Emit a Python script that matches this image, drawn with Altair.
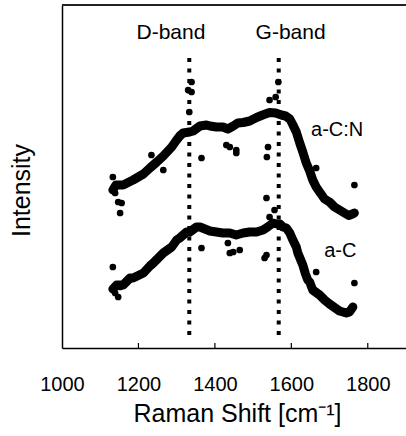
import altair as alt
import pandas as pd

# ---- data ----
# a-C:N main trace (Raman shift in cm-1, intensity in arbitrary units)
acn_shift = [1133, 1141, 1152, 1160, 1186, 1204, 1213, 1230, 1248, 1265,
             1287, 1298, 1308, 1317, 1334, 1343, 1361, 1378, 1387, 1404,
             1421, 1434, 1448, 1460, 1474, 1491, 1509, 1525, 1543, 1559,
             1574, 1585, 1596, 1603, 1613, 1622, 1630, 1639, 1648, 1656,
             1665, 1674, 1687, 1700, 1713, 1726, 1739, 1750, 1760, 1765]
acn_int = [158, 163, 163, 163, 168, 172, 174, 180, 186, 192,
           201, 207, 212, 215, 216, 217, 222, 223, 222, 221,
           221, 219, 222, 225, 225.5, 227, 230.5, 233, 235.5, 235,
           233, 232, 229, 224, 216, 205, 196, 185, 177, 168,
           161, 156, 149, 146, 141, 138, 135, 132.5, 134, 135]
# a-C:N scattered points
acn_out_shift = [1133, 1139, 1147, 1156, 1152, 1234, 1265, 1330, 1339, 1339,
                 1333, 1365, 1430, 1439, 1456, 1456, 1539, 1536, 1535, 1556,
                 1543, 1559, 1566, 1665, 1765]
acn_out_int = [171, 155, 146, 145, 135, 193, 178, 258, 266, 256,
               236, 190, 203, 201, 198, 195, 201, 191, 150, 138,
               248, 251, 266, 180, 163]

# a-C main trace
ac_shift = [1133, 1143, 1160, 1178, 1186, 1213, 1230, 1239, 1265, 1287,
            1300, 1308, 1326, 1334, 1352, 1361, 1374, 1387, 1404, 1421,
            1439, 1456, 1474, 1491, 1509, 1526, 1538, 1552, 1562, 1570,
            1578, 1587, 1596, 1604, 1613, 1617, 1630, 1637, 1643, 1648,
            1656, 1674, 1687, 1700, 1713, 1726, 1744, 1752, 1761]
ac_int = [59, 63, 63, 70, 70, 75, 82, 85, 95, 101,
          108, 110, 116, 116, 121, 121, 119, 117, 116, 115,
          115, 113, 115, 116, 116, 118, 121, 125, 124, 124,
          121, 120, 115, 108, 101, 95, 83, 74, 68, 66,
          58, 53, 48, 44, 40.5, 37, 35, 36, 41]
# a-C scattered points
ac_out_shift = [1133, 1139, 1147, 1152, 1365, 1434, 1448, 1465, 1439, 1535,
                1530, 1543, 1665, 1765]
ac_out_int = [81, 55, 51, 61, 100, 105, 96, 98, 95, 93,
              90, 131, 76, 65]

# band markers
band_names = ["D-band", "G-band"]
band_pos = [1333, 1567]
band_top = [290, 290]
band_bottom = [13, 13]
band_label_x = [1285, 1598]
band_label_y = [315, 315]

# curve labels
curve_names = ["a-C:N", "a-C"]
curve_label_x = [1720, 1728]
curve_label_y = [218, 97]

x_ticks = [1000, 1200, 1400, 1600, 1800]
inner_ticks = [1200, 1400, 1600, 1800]

# ---- tables ----
trace = pd.concat([
    pd.DataFrame({"shift": acn_shift, "intensity": acn_int, "sample": "a-C:N"}),
    pd.DataFrame({"shift": ac_shift, "intensity": ac_int, "sample": "a-C"}),
])
scatter = pd.concat([
    trace,
    pd.DataFrame({"shift": acn_out_shift, "intensity": acn_out_int, "sample": "a-C:N"}),
    pd.DataFrame({"shift": ac_out_shift, "intensity": ac_out_int, "sample": "a-C"}),
])
bands = pd.DataFrame({"name": band_names, "pos": band_pos, "top": band_top,
                      "bottom": band_bottom, "lx": band_label_x, "ly": band_label_y})
curves = pd.DataFrame({"name": curve_names, "x": curve_label_x, "y": curve_label_y})
ticks_df = pd.DataFrame({"t": inner_ticks})

W, H = 344, 343
FONT = "Liberation Sans"
xs = alt.Scale(domain=[1000, 1900], nice=False, zero=False)
ys = alt.Scale(domain=[0, 343], nice=False, zero=False)

x_axis = alt.Axis(values=x_ticks, format="d", ticks=False, grid=False,
                  labelFontSize=20, labelFont=FONT, labelColor="black",
                  labelPadding=26, labelFlush=False, labelBound=False,
                  domainColor="black", domainWidth=1.5,
                  title="Raman Shift [cm⁻¹]", titleFont=FONT, titleFontSize=25,
                  titleFontWeight="normal", titleColor="black",
                  titleX=175, titleY=65, titleAlign="center", titleBaseline="middle")
y_axis = alt.Axis(labels=False, ticks=False, grid=False,
                  domainColor="black", domainWidth=1.5,
                  title="Intensity", titleFont=FONT, titleFontSize=25,
                  titleFontWeight="normal", titleColor="black",
                  titleX=-41, titleY=185, titleAlign="center", titleBaseline="middle")


def X(field):
    return alt.X(field, scale=xs, axis=x_axis)


def Y(field):
    return alt.Y(field, scale=ys, axis=y_axis)


lines = alt.Chart(trace).mark_line(color="black", strokeWidth=9,
                                   strokeCap="round", strokeJoin="round").encode(
    x=X("shift:Q"), y=Y("intensity:Q"), detail="sample:N",
)
points = alt.Chart(scatter).mark_circle(color="black", size=45, opacity=1).encode(
    x=X("shift:Q"), y=Y("intensity:Q"),
)
band_rules = alt.Chart(bands).mark_rule(color="black", strokeWidth=4,
                                        strokeDash=[4, 6.5]).encode(
    x=X("pos:Q"), y=Y("top:Q"), y2="bottom:Q",
)
band_text = alt.Chart(bands).mark_text(font=FONT, fontSize=21, color="black",
                                       baseline="middle", align="center").encode(
    x=X("lx:Q"), y=Y("ly:Q"), text="name:N",
)
curve_text = alt.Chart(curves).mark_text(font=FONT, fontSize=20, color="black",
                                         baseline="middle", align="center").encode(
    x=X("x:Q"), y=Y("y:Q"), text="name:N",
)
tick_marks = alt.Chart(ticks_df).mark_rule(color="black", strokeWidth=1.2).encode(
    x=X("t:Q"), y=alt.value(H), y2=alt.value(H - 5),
)
top_line = alt.Chart(ticks_df).mark_rule(color="#222", strokeWidth=1.5).encode(
    x=alt.value(0), x2=alt.value(W), y=alt.value(0),
)

chart = alt.layer(lines, points, band_rules, band_text, curve_text, tick_marks, top_line).properties(
    width=W, height=H,
    padding={"left": 62, "top": 5, "right": 0, "bottom": 88},
    autosize=alt.AutoSizeParams(type="none"),
).configure_view(stroke=None)

chart.save("out.html", embed_options={"renderer": "svg", "actions": False})
